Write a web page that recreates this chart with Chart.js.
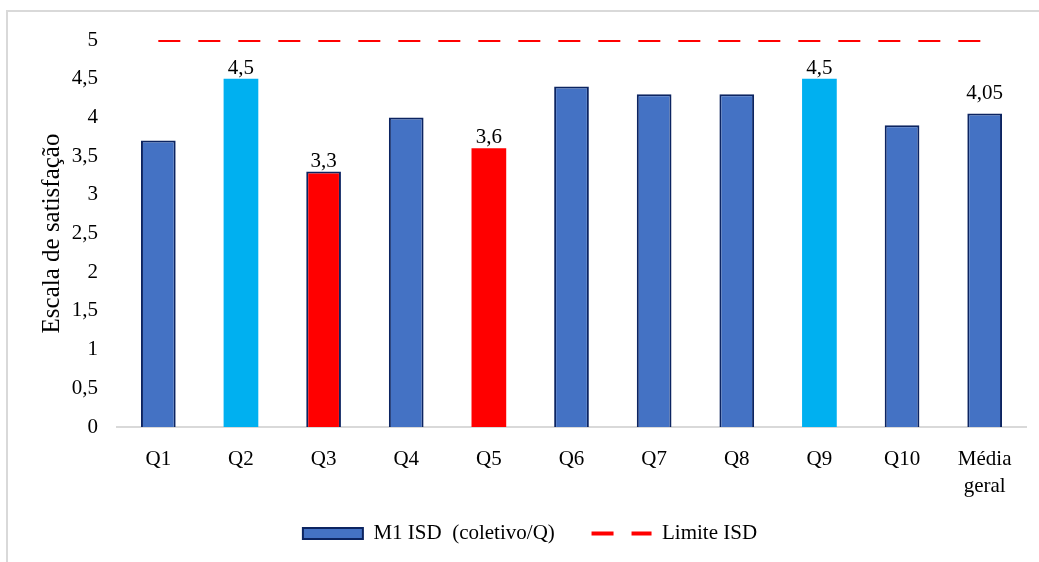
<!DOCTYPE html>
<html>
<head>
<meta charset="utf-8">
<script src="https://cdn.jsdelivr.net/npm/chart.js@4"></script>
<style>
	body { margin: 0; background: #fff; }
	#wrap { position: relative; width: 1039px; height: 562px; overflow: hidden; }
	#frame { position: absolute; left: 6px; top: 10px; width: 1100px; height: 600px; border-top: 2px solid #d9d9d9; border-left: 2px solid #d9d9d9; pointer-events: none; }
</style>
</head>
<body>
<div id="wrap">
	<canvas id="chart" width="1039" height="562"></canvas>
	<div id="frame"></div>
</div>
<script>
const categories = ['Q1', 'Q2', 'Q3', 'Q4', 'Q5', 'Q6', 'Q7', 'Q8', 'Q9', 'Q10', ['Média', 'geral']]
const m1Values = [3.7, 4.5, 3.3, 4.0, 3.6, 4.4, 4.3, 4.3, 4.5, 3.9, 4.05]
const limitValues = [5, 5, 5, 5, 5, 5, 5, 5, 5, 5, 5]
const labelled = [false, true, true, false, true, false, false, false, true, false, true]
const yTicks = [0, 0.5, 1, 1.5, 2, 2.5, 3, 3.5, 4, 4.5, 5]

const BLUE = '#4472c4'
const NAVY = '#0c2461'
const CYAN = '#00b0f0'
const RED = '#ff0000'
const FONT = '"Liberation Serif", "Times New Roman", serif'

const barColors = ['blue', 'cyan', 'red', 'blue', 'red', 'blue', 'blue', 'blue', 'cyan', 'blue', 'blue']
	.map(c => c === 'cyan' ? CYAN : c === 'red' ? RED : BLUE)
const barBorders = [2, 0, 2, 2, 0, 2, 2, 2, 0, 2, 2]

const fmt = v => String(v).replace('.', ',')

// draws the few value labels that sit above the bars
const valueLabels = {
	id: 'valueLabels',
	afterDatasetsDraw(chart) {
		const ctx = chart.ctx
		const meta = chart.getDatasetMeta(0)
		ctx.save()
		ctx.font = '21px ' + FONT
		ctx.fillStyle = '#000'
		ctx.textAlign = 'center'
		ctx.textBaseline = 'alphabetic'
		meta.data.forEach((bar, i) => {
			if (!labelled[i]) return
			// the average label floats a bit higher in the original
			const lift = i === m1Values.length - 1 ? 15 : 5
			ctx.fillText(fmt(m1Values[i]), bar.x, bar.y - lift)
		})
		ctx.restore()
	}
}

const ctx = document.getElementById('chart')
const chart = new Chart(ctx, {
	type: 'bar',
	data: {
		labels: categories,
		datasets: [{
			label: 'M1 ISD  (coletivo/Q)',
			data: m1Values,
			backgroundColor: barColors,
			borderColor: NAVY,
			borderWidth: barBorders,
			borderSkipped: 'bottom',
			categoryPercentage: 1,
			barPercentage: 0.42,
			order: 2
		},
		{
			type: 'line',
			label: 'Limite ISD',
			data: limitValues,
			borderColor: RED,
			borderWidth: 4,
			borderDash: [22, 18],
			pointRadius: 0,
			fill: false,
			order: 1
		}]
	},
	options: {
		responsive: false,
		animation: false,
		layout: { padding: { top: 40, right: 13, left: 34, bottom: 8 } },
		scales: {
			x: {
				afterFit: scale => { scale.height = 75 },
				grid: { display: false },
				border: { color: '#d9d9d9', width: 2 },
				ticks: { color: '#000', font: { family: FONT, size: 21, lineHeight: 1.3 }, padding: 11, maxRotation: 0 }
			},
			y: {
				min: 0,
				max: 5,
				afterBuildTicks: scale => { scale.ticks = yTicks.map(v => ({ value: v })) },
				afterFit: scale => { scale.width = 83 },
				grid: { display: false, drawTicks: false },
				border: { display: false },
				ticks: { color: '#000', font: { family: FONT, size: 21 }, padding: 19, callback: v => fmt(v) },
				title: { display: true, text: 'Escala de satisfação', color: '#000', font: { family: FONT, size: 25 }, padding: { top: 3, bottom: 0 } }
			}
		},
		plugins: {
			legend: {
				position: 'bottom',
				labels: {
					color: '#000',
					font: { family: FONT, size: 21 },
					usePointStyle: true,
					pointStyleWidth: 60,
					boxWidth: 60,
					boxHeight: 11,
					padding: 21,
					generateLabels: () => [
						// trailing spaces widen the gap between the two entries
						{ text: 'M1 ISD  (coletivo/Q)   ', fillStyle: BLUE, strokeStyle: NAVY, lineWidth: 2, pointStyle: 'rect', datasetIndex: 0 },
						{ text: 'Limite ISD', fillStyle: RED, strokeStyle: RED, lineWidth: 4, lineDash: [22, 18], pointStyle: 'line', datasetIndex: 1 }
					]
				}
			},
			tooltip: { enabled: false }
		}
	},
	plugins: [valueLabels]
})
</script>
</body>
</html>
